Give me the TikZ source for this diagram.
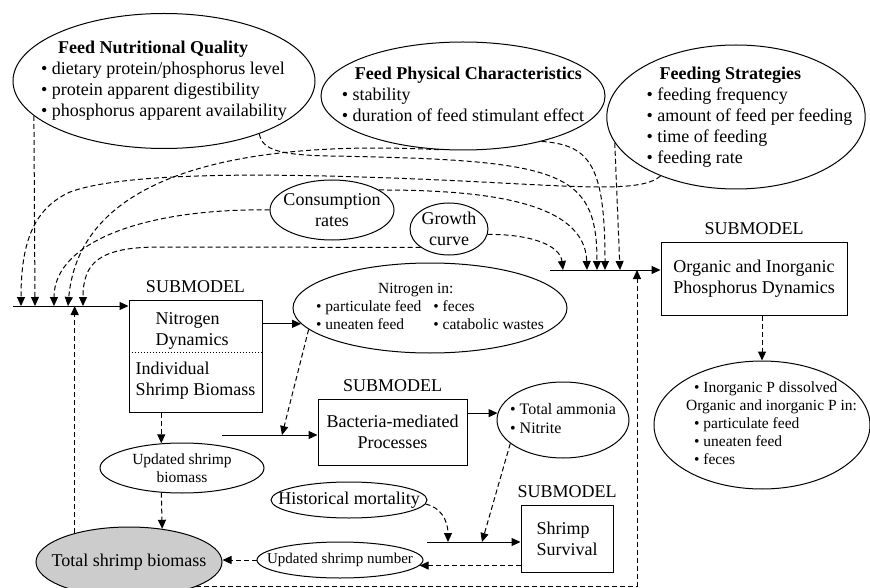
\documentclass[tikz,border=0pt]{standalone}
\usepackage{fontspec}
\setmainfont{Liberation Serif}
\usetikzlibrary{arrows.meta,shapes.geometric}
\usetikzlibrary{positioning}

\begin{document}
\begin{tikzpicture}[x=1pt,y=-1pt,line width=1pt,
  every node/.style={font=\fontsize{18}{21}\selectfont},
  smalltxt/.style={font=\fontsize{15.5}{18}\selectfont},
  oval/.style={draw,ellipse,inner sep=-25pt},
  box/.style={draw,rectangle},
  lbl/.style={inner sep=0pt},
  arr/.style={-{Triangle[length=9pt,width=8pt]}},
  dsh/.style={arr,dash pattern=on 5pt off 3pt}]
\useasboundingbox (0,0) rectangle (870,588);

\node[oval,minimum width=302,minimum height=135] (nq) at (164,81) {\begin{tabular}{@{}l@{}}\hspace*{17pt}\textbf{Feed Nutritional Quality}\\ \textbullet{} dietary protein/phosphorus level\\ \textbullet{} protein apparent digestibility\\ \textbullet{} phosphorus apparent availability\end{tabular}};
\node[oval,minimum width=284,minimum height=108] (pc) at (463,96) {\begin{tabular}{@{}l@{}}\hspace*{13pt}\textbf{Feed Physical Characteristics}\\ \textbullet{} stability\\ \textbullet{} duration of feed stimulant effect\end{tabular}};
\node[oval,minimum width=248,minimum height=144] (fs) at (736,117) {\hspace*{27pt}\begin{tabular}{@{}l@{}}\hspace*{13pt}\textbf{Feeding Strategies}\\ \textbullet{} feeding frequency\\ \textbullet{} amount of feed per feeding\\ \textbullet{} time of feeding\\ \textbullet{} feeding rate\end{tabular}};
\node[oval,minimum width=124,minimum height=60,align=center] (cr) at (332,210) {Consumption\\rates};
\node[oval,minimum width=78,minimum height=52,align=center] (gc) at (449,229) {Growth\\curve};

\node[box,minimum width=133,minimum height=112] (nb) at (195.5,356) {\begin{tabular}{@{}l@{}}\hspace*{20pt}Nitrogen\\ \hspace*{20pt}Dynamics\\[8pt] Individual\\ Shrimp Biomass\end{tabular}};
\node[lbl,above=6pt of nb] (nbl) {SUBMODEL};
\node[oval,smalltxt,minimum width=274,minimum height=90] (ni) at (430,308) {\begin{tabular}{@{}l@{\hspace{12pt}}l@{}}\multicolumn{2}{@{}l@{}}{\hspace*{62pt}Nitrogen in:}\\ \textbullet{} particulate feed & \textbullet{} feces\\ \textbullet{} uneaten feed & \textbullet{} catabolic wastes\end{tabular}};
\node[box,minimum width=149,minimum height=66,align=center] (bb) at (392.5,432) {Bacteria-mediated\\Processes};
\node[lbl,above=6pt of bb] (bbl) {SUBMODEL};
\node[oval,font=\fontsize{16}{19}\selectfont,minimum width=132,minimum height=76] (ta) at (563,420) {\begin{tabular}{@{}l@{}}\textbullet{} Total ammonia\\ \textbullet{} Nitrite\end{tabular}};
\node[box,minimum width=92,minimum height=67,align=left] (sb) at (567,538.5) {Shrimp\\Survival};
\node[lbl,above=6pt of sb] (sbl) {SUBMODEL};
\node[box,minimum width=186,minimum height=73,align=center] (pb) at (754,278.5) {Organic and Inorganic\\Phosphorus Dynamics};
\node[lbl,above=6pt of pb] (pbl) {SUBMODEL};
\node[oval,smalltxt,minimum width=216,minimum height=128] (po) at (762,425) {\hspace*{19pt}\begin{tabular}{@{}l@{}}\hspace*{8pt}\textbullet{} Inorganic P dissolved\\ Organic and inorganic P in:\\ \hspace*{8pt}\textbullet{} particulate feed\\ \hspace*{8pt}\textbullet{} uneaten feed\\ \hspace*{8pt}\textbullet{} feces\end{tabular}};

\node[oval,smalltxt,minimum width=164,minimum height=50,align=center] (usb) at (182,468) {Updated shrimp\\biomass};
\node[oval,minimum width=156,minimum height=36] (hm) at (349,500) {Historical mortality};
\node[oval,font=\fontsize{15}{18}\selectfont,minimum width=166,minimum height=36] (usn) at (340,560) {Updated shrimp number};
\node[oval,fill=gray!40,minimum width=186,minimum height=70] (tsb) at (129,562) {Total shrimp biomass};

\draw[dotted] ([yshift=4pt]nb.west) -- ([yshift=4pt]nb.east);

\coordinate (nl) at (13,306);
\coordinate (pl) at (550,270);
\coordinate (pu) at (637,270);
\coordinate (bl) at (222,435);
\coordinate (b1) at (282,435);
\coordinate (sl) at (427,542);
\coordinate (s1) at (448,542);
\coordinate (s2) at (482,542);
\foreach \x [count=\i] in {21,35,54,68,83} \coordinate (n\i) at (\x,306);
\foreach \x [count=\i] in {563,587,597,605,620} \coordinate (p\i) at (\x,270);

\draw[arr] (nl) -- (nl -| nb.west);
\draw[arr] (pl) -- (pl -| pb.west);
\draw[arr] (bl) -- (bl -| bb.west);
\draw[arr] (sl) -- (sl -| sb.west);
\draw[arr] (nb.east |- ni.187) -- (ni.187);
\draw[arr] (bb.east |- ta.174) -- (ta.174);

\draw[dsh] (fs.218) .. controls (645,190) and (600,188) .. (520,184) .. controls (300,172) and (130,170) .. (70,192) .. controls (35,208) and (21,240) .. (n1);
\draw[dsh] (nq.195) -- (n2);
\draw[dsh] (cr.west) .. controls (150,208) and (54,240) .. (n3);
\draw[dsh] (pc.246) .. controls (250,140) and (80,170) .. (n4);
\draw[dsh] (gc.213) -- (160,247) .. controls (100,247) and (83,262) .. (n5);

\draw[dsh] (gc.-8) .. controls (530,234) and (560,245) .. (p1);
\draw[dsh] (cr.23) .. controls (480,190) and (585,200) .. (p2);
\draw[dsh] (nq.-29) .. controls (262,150) and (280,155) .. (330,156) .. controls (560,160) and (597,170) .. (p3);
\draw[dsh] (pc.-30) .. controls (590,145) and (605,165) .. (p4);
\draw[dsh] (fs.192) -- (p5);

\draw[dsh] (ni.190) -- (b1);
\draw[dsh] (ta.204) -- (s2);
\draw[dsh] (hm.-3) .. controls (440,507) and (448,520) .. (s1);
\draw[dsh] (sb.west |- usn.-4) -- (usn.-4);
\draw[dsh] (usn.west) -- (usn.west -| tsb.east);
\draw[dsh] (nb.south -| usb.130) -- (usb.130);
\draw[dsh] (usb.-130) -- (tsb.45);
\draw[dsh] (tsb.152) -- (tsb.152 |- nl);
\draw[dsh] (tsb.-20) -| (pu);
\draw[dsh] (pb.south -| po.north) -- (po.north);
\end{tikzpicture}
\end{document}
